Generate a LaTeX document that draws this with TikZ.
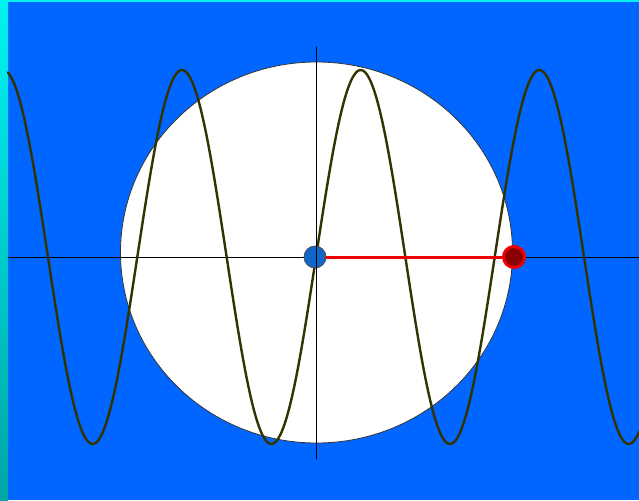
\documentclass[tikz,border=0pt]{standalone}
\usetikzlibrary{positioning}
\definecolor{wavBack}{HTML}{0066FF}
\definecolor{wavEdgeTop}{HTML}{00F2F2}
\definecolor{wavEdgeBot}{HTML}{00A6A6}
\definecolor{wavCurve}{HTML}{333300}
\definecolor{wavHub}{HTML}{1166CC}
\definecolor{wavRed}{HTML}{EE0000}
\definecolor{wavTip}{HTML}{8A0000}
\begin{document}
\begin{tikzpicture}[x=1pt,y=-1pt,line cap=round,line join=round]
\useasboundingbox (0,0) rectangle (639,500);
\path[fill=wavBack] (0,0) rectangle (639,500);
\path[top color=wavEdgeTop,bottom color=wavEdgeBot] (0,0) rectangle (8,500);
\path[fill=wavEdgeTop] (8,0) rectangle (639,2);
\tikzset{axis/.style={draw=black,line width=0.9pt},wave/.style={draw=wavCurve,line width=2.4pt},arm/.style={draw=wavRed,line width=3pt},hub/.style={circle,draw=black!70,fill=wavHub,line width=0.8pt,minimum size=22pt,inner sep=0pt},tip/.style={circle,draw=wavRed,fill=wavTip,line width=3pt,minimum size=21pt,inner sep=0pt}}
\draw[draw=black!80,fill=white,line width=0.8pt] (316.5,252.5) ellipse (196 and 190.5);
\draw[axis] (8,257) -- (639,257);
% the sampled wave, crossing the centre upward
\draw[wave] plot[domain=8:639,samples=360,smooth] (\x,{257-187*sin(2.01455*(\x-316))});
\node[hub] (hub) at (315,257) {};
\node[tip] (tip) at (514,257) {};
\draw[arm] (hub) -- (tip);
\draw[axis] (316,47) -- (316,459);
\end{tikzpicture}
\end{document}
